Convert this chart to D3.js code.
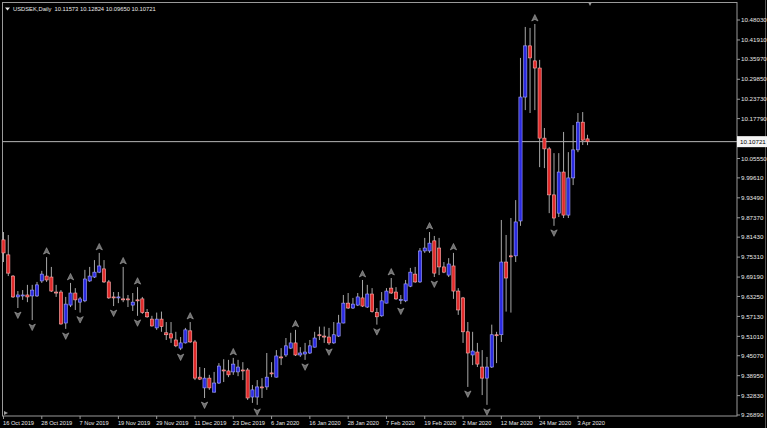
<!DOCTYPE html>
<html><head><meta charset="utf-8">
<script src="https://cdn.jsdelivr.net/npm/d3@7"></script>
<style>html,body{margin:0;padding:0;background:#000;overflow:hidden}svg{display:block}</style>
</head><body>
<svg id="c" width="767" height="428"></svg>
<script>
const symbolTitle = "USDSEK,Daily";
const openP = [9.806,9.760,9.695,9.631,9.635,9.637,9.634,9.634,9.680,9.695,
9.692,9.646,9.646,9.551,9.606,9.643,9.615,9.619,9.680,9.692,
9.707,9.717,9.677,9.631,9.628,9.625,9.625,9.606,9.622,9.625,
9.583,9.563,9.536,9.563,9.521,9.518,9.499,9.474,9.490,9.527,
9.493,9.385,9.352,9.382,9.339,9.367,9.407,9.404,9.401,9.401,
9.407,9.407,9.324,9.324,9.355,9.355,9.398,9.385,9.447,9.453,
9.474,9.490,9.453,9.456,9.459,9.477,9.515,9.511,9.508,9.490,
9.511,9.551,9.612,9.597,9.606,9.628,9.600,9.640,9.583,9.573,
9.612,9.658,9.646,9.622,9.619,9.664,9.701,9.677,9.772,9.772,
9.803,9.781,9.723,9.698,9.726,9.649,9.628,9.524,9.453,9.462,
9.416,9.382,9.416,9.515,9.515,9.738,9.757,9.757,9.864,10.244,
10.401,10.355,10.333,10.118,10.085,9.944,9.888,10.014,9.882,9.996,
10.082,10.167,10.11573];
const highP = [9.830,9.821,9.698,9.649,9.652,9.668,9.668,9.677,9.711,9.753,
9.723,9.668,9.652,9.631,9.674,9.658,9.631,9.714,9.723,9.744,
9.766,9.744,9.683,9.646,9.646,9.723,9.637,9.643,9.661,9.631,
9.594,9.573,9.583,9.586,9.554,9.554,9.524,9.508,9.536,9.554,
9.499,9.416,9.413,9.392,9.401,9.428,9.440,9.438,9.444,9.438,
9.431,9.413,9.361,9.376,9.382,9.459,9.431,9.468,9.474,9.505,
9.521,9.530,9.477,9.490,9.499,9.524,9.540,9.540,9.536,9.554,
9.576,9.637,9.643,9.628,9.643,9.683,9.668,9.658,9.597,9.646,
9.658,9.689,9.661,9.637,9.683,9.720,9.723,9.781,9.812,9.830,
9.818,9.812,9.738,9.750,9.766,9.658,9.631,9.554,9.524,9.490,
9.468,9.447,9.546,9.524,9.867,9.821,9.873,9.928,10.364,10.459,
10.456,10.468,10.358,10.149,10.091,10.072,10.072,10.137,10.075,10.158,
10.195,10.198,10.12824];
const lowP = [9.738,9.695,9.628,9.597,9.622,9.615,9.560,9.631,9.674,9.677,
9.646,9.631,9.546,9.533,9.600,9.591,9.583,9.615,9.677,9.689,
9.704,9.674,9.625,9.603,9.612,9.615,9.600,9.588,9.573,9.579,
9.567,9.540,9.530,9.524,9.499,9.490,9.477,9.468,9.488,9.490,
9.376,9.376,9.321,9.346,9.338,9.364,9.370,9.385,9.392,9.388,
9.376,9.315,9.306,9.300,9.321,9.346,9.385,9.384,9.422,9.447,
9.471,9.450,9.447,9.438,9.456,9.476,9.499,9.490,9.484,9.487,
9.508,9.550,9.594,9.594,9.603,9.600,9.597,9.583,9.546,9.570,
9.611,9.640,9.622,9.609,9.615,9.661,9.674,9.674,9.766,9.766,
9.692,9.698,9.704,9.692,9.625,9.576,9.490,9.355,9.422,9.416,
9.330,9.300,9.413,9.428,9.493,9.586,9.583,9.738,9.849,10.204,
10.195,10.204,10.029,10.026,9.888,9.849,9.876,9.873,9.873,9.974,
10.075,10.097,10.09650];
const closeP = [9.766,9.704,9.631,9.637,9.637,9.631,9.652,9.668,9.701,9.683,
9.649,9.644,9.548,9.609,9.643,9.622,9.625,9.686,9.695,9.707,
9.726,9.677,9.628,9.629,9.631,9.624,9.623,9.615,9.621,9.583,
9.570,9.542,9.563,9.540,9.515,9.505,9.481,9.490,9.530,9.493,
9.382,9.379,9.382,9.352,9.367,9.419,9.406,9.392,9.425,9.416,
9.405,9.321,9.346,9.355,9.354,9.385,9.397,9.450,9.446,9.481,
9.490,9.453,9.459,9.462,9.481,9.505,9.514,9.510,9.490,9.515,
9.551,9.612,9.597,9.609,9.631,9.603,9.640,9.586,9.570,9.619,
9.649,9.643,9.625,9.623,9.671,9.707,9.677,9.772,9.781,9.796,
9.704,9.723,9.707,9.732,9.649,9.591,9.524,9.459,9.465,9.425,
9.382,9.416,9.515,9.514,9.738,9.689,9.756,9.861,10.244,10.401,
10.364,10.333,10.118,10.085,9.944,9.873,10.014,9.882,9.996,10.082,
10.167,10.112,10.10721];
const upFractals = [9,14,20,25,28,39,48,61,75,81,89,94,111];
const downFractals = [3,6,13,16,23,28,37,42,53,63,68,78,83,90,97,101,115];
const dateLabels = ["16 Oct 2019","28 Oct 2019","7 Nov 2019","19 Nov 2019","29 Nov 2019","11 Dec 2019","23 Dec 2019","6 Jan 2020","16 Jan 2020","28 Jan 2020","7 Feb 2020","19 Feb 2020","2 Mar 2020","12 Mar 2020","24 Mar 2020","3 Apr 2020"];
const dateLabelBars = [0,8,16,24,32,40,48,56,64,72,80,88,96,104,112,120];
const priceTicks = [10.48030,10.41910,10.35970,10.29850,10.23730,10.17790,10.11670,10.05550,9.99610,9.93490,9.87370,9.81430,9.75310,9.69190,9.63250,9.57130,9.51010,9.45070,9.38950,9.32830,9.26890];

const n = openP.length;
const last = n - 1;
const svg = d3.select("#c");
const W = 767, H = 428;
const plotL = 2.5, plotR = 737, plotT = 2.5, plotB = 416;
const FONT = "Liberation Sans, Arial, sans-serif";

const x = d3.scaleLinear().domain([0, last]).range([3.5, 587.5]);
const y = d3.scaleLinear().domain([9.26890, 10.48030]).range([415, 20]);

svg.append("rect").attr("width", W).attr("height", H).attr("fill", "#000");

// frame
svg.append("rect").attr("x", plotL).attr("y", plotT).attr("width", plotR - plotL).attr("height", plotB - plotT)
  .attr("fill", "none").attr("stroke", "#9a9a9a").attr("stroke-width", 1);
svg.append("line").attr("x1", W - 1.5).attr("x2", W - 1.5).attr("y1", 0).attr("y2", H).attr("stroke", "#555");

const plot = svg.append("g");

// current price line
plot.append("line").attr("x1", plotL).attr("x2", plotR)
  .attr("y1", y(closeP[last])).attr("y2", y(closeP[last]))
  .attr("stroke", "#b8b8b8").attr("stroke-width", 1);

const idx = d3.range(n);
// wicks
plot.selectAll("line.wick").data(idx).join("line").attr("class", "wick")
  .attr("x1", i => x(i)).attr("x2", i => x(i))
  .attr("y1", i => y(highP[i])).attr("y2", i => y(lowP[i]))
  .attr("stroke", "#a8a8a8").attr("stroke-width", 1);
// bodies
const bodyW = 3.2;
plot.selectAll("rect.body").data(idx).join("rect").attr("class", "body")
  .attr("x", i => x(i) - bodyW / 2)
  .attr("y", i => y(Math.max(openP[i], closeP[i])))
  .attr("width", bodyW)
  .attr("height", i => Math.max(1, Math.abs(y(openP[i]) - y(closeP[i]))))
  .attr("fill", i => closeP[i] >= openP[i] ? "#2a2ae0" : "#e02a2a")
  .attr("stroke", i => closeP[i] >= openP[i] ? "#a8a8ff" : "#ffb0b0")
  .attr("stroke-width", 0.6);

// fractals
const upPath = "M0,-3.5 L3.2,3 L0,1.4 L-3.2,3 Z";
const downPath = "M0,3.5 L3.2,-3 L0,-1.4 L-3.2,-3 Z";
plot.selectAll("path.fup").data(upFractals).join("path").attr("class", "fup")
  .attr("d", upPath)
  .attr("transform", i => `translate(${x(i)},${y(highP[i]) - 6})`)
  .attr("fill", "#6e6e6e").attr("stroke", "#b4b4b4").attr("stroke-width", 0.5);
plot.selectAll("path.fdn").data(downFractals).join("path").attr("class", "fdn")
  .attr("d", downPath)
  .attr("transform", i => `translate(${x(i)},${y(lowP[i]) + 7})`)
  .attr("fill", "#6e6e6e").attr("stroke", "#b4b4b4").attr("stroke-width", 0.5);

// chart shift marker
svg.append("path").attr("d", `M${x(last) + 1},3 l3,0 l-1.5,3 Z`).attr("fill", "#9a9a9a");

// Y axis (labels hidden under the current-price box are skipped, as in the terminal)
const cy = y(closeP[last]);
const yAxis = svg.append("g");
priceTicks.forEach(v => {
  yAxis.append("line").attr("x1", plotR).attr("x2", plotR + 3).attr("y1", y(v)).attr("y2", y(v)).attr("stroke", "#9a9a9a");
  if (Math.abs(y(v) - cy) < 9) return;
  yAxis.append("text").attr("x", plotR + 4).attr("y", y(v)).attr("dy", "0.35em")
    .attr("font-family", FONT).attr("font-size", 6.2)
    .attr("fill", "#e8e8e8").text(d3.format(".5f")(v));
});
// current price label
svg.append("rect").attr("x", plotR).attr("y", cy - 5.5).attr("width", 30).attr("height", 11).attr("fill", "#f4f4f4");
svg.append("text").attr("x", plotR + 3).attr("y", cy).attr("dy", "0.35em")
  .attr("font-family", FONT).attr("font-size", 6.2)
  .attr("fill", "#000").text(d3.format(".5f")(closeP[last]));

// X axis
const xAxis = svg.append("g");
dateLabelBars.forEach((b, k) => {
  xAxis.append("line").attr("x1", x(b)).attr("x2", x(b)).attr("y1", plotB).attr("y2", plotB + 3).attr("stroke", "#9a9a9a");
  xAxis.append("text").attr("x", x(b) - 0.5).attr("y", 424.5)
    .attr("font-family", FONT).attr("font-size", 5.7)
    .attr("fill", "#e8e8e8").text(dateLabels[k]);
});
svg.append("path").attr("d", "M4,411 l0,4 l4,-2 Z").attr("fill", "#9a9a9a");

// title
svg.append("path").attr("d", "M5,7.5 l5,0 l-2.5,3 Z").attr("fill", "#e8e8e8");
svg.append("text").attr("x", 13).attr("y", 11)
  .attr("font-family", FONT).attr("font-size", 5.8).attr("fill", "#e8e8e8")
  .attr("xml:space", "preserve")
  .text(symbolTitle + "  " + [openP[last], highP[last], lowP[last], closeP[last]].map(d3.format(".5f")).join(" "));
</script>
</body></html>
